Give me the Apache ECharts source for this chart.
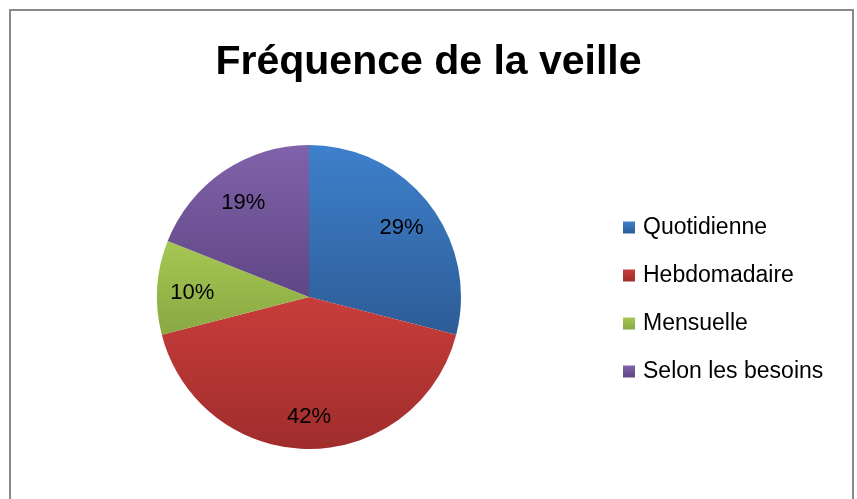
<!DOCTYPE html>
<html><head><meta charset="utf-8">
<script src="https://cdn.jsdelivr.net/npm/echarts@6/dist/echarts.min.js"></script>
<style>html,body{margin:0;padding:0;background:#fff}#c{width:857px;height:499px}</style>
</head><body><div id="c"></div>
<script>
const titleText = 'Fréquence de la veille';
const categories = ['Quotidienne', 'Hebdomadaire', 'Mensuelle', 'Selon les besoins'];
const values = [29, 42, 10, 19];
const topColors = ['#3e80cc', '#c83d3b', '#a6c753', '#8062aa'];
const bottomColors = ['#2d5c96', '#9f2d2c', '#89a843', '#5f4685'];

function grad(i){
  return {type:'linear', x:0, y:0, x2:0, y2:1, colorStops:[
    {offset:0, color:topColors[i]}, {offset:1, color:bottomColors[i]}]};
}
const chart = echarts.init(document.getElementById('c'), null, {renderer:'canvas'});
const fill = categories.map((n,i)=>({name:n, value:values[i], itemStyle:{color:grad(i)}}));
const lbl = categories.map((n,i)=>({name:n, value:values[i]}));
chart.setOption({
  animation:false,
  backgroundColor:'#fff',
  title:{text:titleText, left:'center', top:37,
    textStyle:{fontFamily:'Liberation Sans', fontWeight:'bold', fontSize:41, color:'#000'}},
  legend:{orient:'vertical', left:623, top:216, padding:0, itemWidth:12, itemHeight:12, itemGap:25,
    icon:'rect',
    data:categories.map((n,i)=>({name:n, itemStyle:{color:grad(i)}})),
    textStyle:{fontFamily:'Liberation Sans', fontSize:23, color:'#000', lineHeight:23, padding:[0,0,0,3]}},
  graphic:[{type:'rect', shape:{x:10,y:10,width:843,height:520},
    style:{fill:'none', stroke:'#8a8a8a', lineWidth:2}, silent:true}],
  series:[
    {type:'pie', center:[309,297], radius:[0,152], startAngle:90, clockwise:true,
     label:{show:false}, labelLine:{show:false}, data:fill, silent:true},
    {type:'pie', center:[309,297], radius:[76,152], startAngle:90, clockwise:true,
     itemStyle:{color:'rgba(0,0,0,0)'}, silent:true, legendHoverLink:false,
     label:{show:true, position:'inside', formatter:'{c}%', color:'#000', offset:[0,3],
       fontFamily:'Liberation Sans', fontSize:22},
     labelLine:{show:false}, data:lbl}
  ]
});
</script></body></html>
